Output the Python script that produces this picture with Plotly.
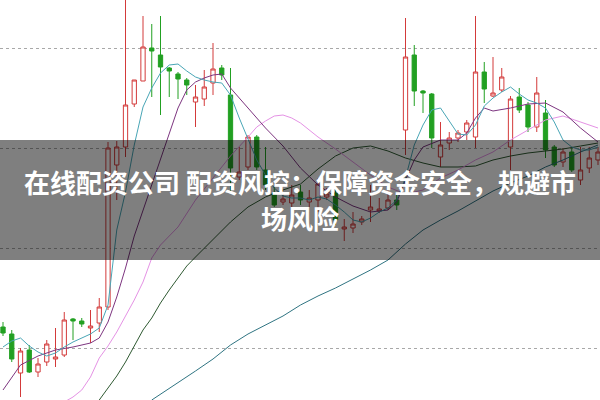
import plotly.graph_objects as go

# candle index 0..68, prices in chart units
idx = list(range(69))
opens = [73,66,27,50,28,38,41,45,81,79,72,77,93,235,253,296,319,352,345,332,326,320,298,301,317,332,305,223,233,263,230,207,198,197,208,198,200,203,207,171,172,178,190,189,192,200,270,345,309,306,243,257,262,268,263,328,304,310,253,303,295,273,287,253,238,248,220,232,240]
highs = [78,70,52,55,42,60,72,88,82,82,90,102,258,259,402,320,384,376,384,333,328,322,315,330,357,335,332,253,265,265,253,213,207,215,215,210,222,212,212,181,188,184,215,202,210,205,382,355,310,307,278,268,270,280,384,338,343,332,304,312,298,323,300,255,252,253,253,253,253]
lows = [64,38,3,27,23,34,33,43,60,73,57,68,90,200,243,293,319,303,285,303,301,305,273,294,305,320,208,220,230,230,210,193,195,190,195,193,188,200,175,159,167,175,178,187,190,190,245,294,287,252,233,250,258,260,252,297,303,308,230,287,268,268,242,233,233,228,215,227,235]
closes = [67,41,49,28,36,56,43,80,79,76,74,93,252,253,295,320,353,349,333,329,321,315,303,313,331,325,232,228,263,233,215,195,201,205,200,202,216,206,180,173,176,181,193,191,200,195,343,309,307,262,255,262,267,277,328,311,307,323,301,290,273,307,250,235,248,230,230,242,248]

ma5 = [53,59,62,54,48,44,47,53,58,62,66,72,95,170,208,255,293,312,327,335,336,329,323,320,318,317,305,282,260,240,225,212,204,202,202,200,203,201,195,188,180,178,182,188,192,200,222,255,275,290,292,279,266,265,275,294,302,308,313,306,300,297,292,278,260,253,250,250,253]

ma10_x = [0,2,4,6,8,10,11,12,13,14,15,16,17,18,19,20,21,22,23,24,25,26,28,30,32,34,36,38,40,42,44,45,46,47,48,50,52,53,54,55,56,58,60,62,64,66,68]
ma10 = [10,35,44,50,53,57,62,78,103,132,164,190,215,240,267,292,310,318,322,325,326,312,292,272,254,232,215,203,194,188,190,198,220,240,253,260,260,267,282,292,289,292,296,297,288,272,258]

ma20_x = [7,8,9,10,11,12,13,14,15,16,17,18,20,22,24,26,28,29,30,31,32,33,34,36,38,40,42,44,46,48,50,52,54,56,58,60,62,64,66,68]
ma20 = [-2,3,10,23,42,54,68,84,100,118,142,155,173,200,222,244,263,273,279,284,285,282,277,263,251,238,225,213,206,210,222,230,240,248,260,270,280,284,278,272]

ma30_x = [11,12,13,14,15,16,17,18,19,20,21,22,24,26,28,30,32,34,36,38,40,42,44,46,48,50,52,54,56,58,60,62,64,66,68]
ma30 = [0,12,24,38,54,70,82,97,110,122,134,143,160,178,193,203,210,216,231,244,252,254,249,242,237,233,233,234,240,244,247,249,251,254,257]

ma60_x = [17,20,22,24,26,28,30,32,34,36,38,40,42,44,46,48,50,52,54,56,58,60,62,64,66,68]
ma60 = [0,17,29,41,55,66,75,84,95,104,112,121,130,140,156,170,180,189,199,209,217,224,233,240,248,255]

grid_vals = [52, 152, 252, 352]

title1 = "在线配资公司 配资风控：保障资金安全，规避市"
title2 = "场风险"

fig = go.Figure()

lines = [
    (ma60_x, ma60, "#2f7482"),
    (ma30_x, ma30, "#2f5a32"),
    (ma20_x, ma20, "#e592e5"),
    (ma10_x, ma10, "#7d3580"),
    (idx, ma5, "#49a6b6"),
]
for xs, ys, col in lines:
    fig.add_trace(go.Scatter(x=xs, y=ys, mode="lines",
                             line=dict(color=col, width=1), hoverinfo="skip"))

fig.add_trace(go.Candlestick(
    x=idx, open=opens, high=highs, low=lows, close=closes,
    increasing=dict(line=dict(color="#d33a3a", width=1), fillcolor="#ffffff"),
    decreasing=dict(line=dict(color="#22a022", width=1), fillcolor="#22a022"),
    whiskerwidth=0,
))

fig.add_shape(type="rect", xref="paper", yref="paper", x0=0, x1=1, y0=0.35, y1=0.65,
              fillcolor="rgba(0,0,0,0.5)", line=dict(width=0), layer="above")

fig.add_annotation(text="<b>" + title1 + "</b>", xref="paper", yref="paper",
                   x=0.5, y=0.5475, showarrow=False, xanchor="center", yanchor="middle",
                   font=dict(family="Noto Sans CJK SC", size=26, color="#ffffff"))
fig.add_annotation(text="<b>" + title2 + "</b>", xref="paper", yref="paper",
                   x=0.5, y=0.4575, showarrow=False, xanchor="center", yanchor="middle",
                   font=dict(family="Noto Sans CJK SC", size=26, color="#ffffff"))

fig.update_layout(
    width=600, height=400, margin=dict(l=0, r=0, t=0, b=0),
    paper_bgcolor="#ffffff", plot_bgcolor="#ffffff", showlegend=False,
    xaxis=dict(range=[-0.343, 68.228], showgrid=False, zeroline=False,
               showticklabels=False, rangeslider=dict(visible=False), fixedrange=True),
    yaxis=dict(range=[0, 400], tickvals=grid_vals, showgrid=True, gridcolor="#a8a8a8",
               griddash="dot", gridwidth=1, zeroline=False, showticklabels=False,
               fixedrange=True),
)

fig.write_html("out.html", config={"displayModeBar": False},
               post_script="document.body.style.margin='0px';document.body.style.overflow='hidden';")
